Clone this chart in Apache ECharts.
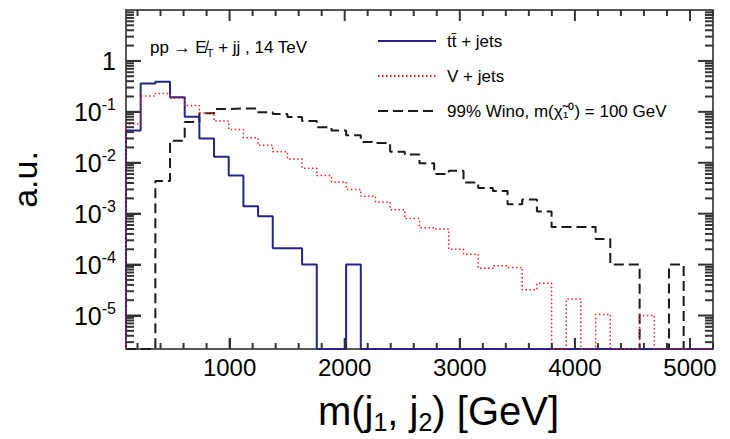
<!DOCTYPE html>
<html><head><meta charset="utf-8">
<script src="https://cdn.jsdelivr.net/npm/echarts@6/dist/echarts.min.js"></script>
<style>html,body{margin:0;padding:0;background:#fff}#c{width:730px;height:439px}</style>
</head><body><div id="c"></div>
<script>
// ---- data (histogram bin edges in GeV, 40 bins) ----
const binEdges = [100, 227.5, 355, 482.5, 610, 737.5, 865, 992.5, 1120, 1247.5,
  1375, 1502.5, 1630, 1757.5, 1885, 2012.5, 2140, 2267.5, 2395, 2522.5,
  2650, 2777.5, 2905, 3032.5, 3160, 3287.5, 3415, 3542.5, 3670, 3797.5,
  3925, 4052.5, 4180, 4307.5, 4435, 4562.5, 4690, 4817.5, 4945, 5072.5, 5200];
const ttbarJets = [0.043, 0.36, 0.39, 0.194, 0.080, 0.030, 0.0131, 0.0056, 0.0014, 0.00089,
  0.00021, 0.00021, 0.0001, 0, 0, 0.0001, 0, 0, 0, 0,
  0, 0, 0, 0, 0, 0, 0, 0, 0, 0,
  0, 0, 0, 0, 0, 0, 0, 0, 0, 0];
const vJets = [0.058, 0.205, 0.228, 0.185, 0.133, 0.095, 0.066, 0.045, 0.031, 0.022,
  0.0165, 0.0118, 0.0078, 0.0056, 0.0042, 0.0030, 0.0022, 0.0017, 0.0012, 0.0008,
  0.00053, 0.0005, 0.0002, 0.00016, 0.000085, 0.000095, 0.000088, 0.000032, 0.000043, 0,
  0.000021, 0, 0.0000105, 0, 0, 0.00001, 0, 0, 0, 0];
const wino = [0, 0, 0.0044, 0.027, 0.063, 0.094, 0.114, 0.116, 0.116, 0.098,
  0.091, 0.079, 0.066, 0.050, 0.043, 0.0345, 0.0257, 0.0245, 0.0164, 0.0145,
  0.0098, 0.0060, 0.0070, 0.0041, 0.0032, 0.0028, 0.00154, 0.0019, 0.0011, 0.00055,
  0.00055, 0.00055, 0.00032, 0.0001, 0.0001, 0, 0, 0.0001, 0, 0];
const xLabelValues = [1000, 2000, 3000, 4000, 5000];
const xMinorTickValues = [200, 400, 600, 800, 1200, 1400, 1600, 1800, 2200, 2400, 2600,
  2800, 3200, 3400, 3600, 3800, 4200, 4400, 4600, 4800, 5200];
const yLabelValues = [1e-5, 1e-4, 1e-3, 1e-2, 1e-1, 1];
const seriesNames = ['tt\u0304 + jets', 'V + jets', '99% Wino, m(\u03c7\u0303\u2081\u2070) = 100 GeV'];

// ---- layout / style ----
const X_MIN = 100, X_MAX = 5200, Y_MIN = 2.2e-6, Y_MAX = 10;
const FONT = '"Liberation Sans", Arial, Helvetica, sans-serif';
const yMinorTickValues = [];
for (let d = -6; d <= 0; d++) for (let k = 2; k <= 9; k++) {
  const v = k * Math.pow(10, d);
  if (v >= Y_MIN && v <= Y_MAX) yMinorTickValues.push(+v.toPrecision(3));
}
const TICKC = '#333';
const Y_MAJ = 15, Y_MIN_LEN = 8, X_MAJ = 11, X_MIN_LEN = 6;

// tick marks (ROOT style: inside, on all four sides) -> [x, y, length, side]
const tickData = [];
yLabelValues.forEach(v => { tickData.push([X_MIN, v, Y_MAJ, 0]); tickData.push([X_MAX, v, Y_MAJ, 1]); });
yMinorTickValues.forEach(v => { tickData.push([X_MIN, v, Y_MIN_LEN, 0]); tickData.push([X_MAX, v, Y_MIN_LEN, 1]); });
xLabelValues.forEach(v => { tickData.push([v, Y_MIN, X_MAJ, 2]); tickData.push([v, Y_MAX, X_MAJ, 3]); });
xMinorTickValues.forEach(v => { tickData.push([v, Y_MIN, X_MIN_LEN, 2]); tickData.push([v, Y_MAX, X_MIN_LEN, 3]); });

function histData(vals) {
  const f = v => (v > 0 ? v : Y_MIN);
  const pts = [[binEdges[0], Y_MIN]];
  vals.forEach((v, i) => pts.push([binEdges[i], f(v)]));
  pts.push([binEdges[vals.length], f(vals[vals.length - 1])]);
  pts.push([binEdges[vals.length], Y_MIN]);
  return pts;
}

const chart = echarts.init(document.getElementById('c'), null, {renderer: 'svg'});
chart.setOption({
  animation: false,
  backgroundColor: '#fff',
  textStyle: {fontFamily: FONT},
  title: {
    text: 'pp \u2192 E\u0338{sub|T} + jj , 14 TeV',
    left: 145, top: 31,
    textStyle: {fontSize: 17, fontWeight: 'normal', color: '#000', fontFamily: FONT,
      rich: {sub: {fontSize: 11, verticalAlign: 'bottom', lineHeight: 22, fontFamily: FONT, color: '#000'}}}
  },
  grid: {left: 121, right: 17, top: 10, bottom: 87, show: true, borderColor: '#222', borderWidth: 1.5,
    backgroundColor: 'transparent'},
  legend: {
    orient: 'vertical', left: 377, top: 31, padding: 0, itemWidth: 58, itemHeight: 14, itemGap: 15,
    data: seriesNames,
    itemStyle: {opacity: 0},
    textStyle: {fontSize: 17, color: '#000', fontFamily: FONT, lineHeight: 20, padding: [0, 0, 0, 6]},
  },
  xAxis: {
    type: 'value', min: X_MIN, max: X_MAX,
    axisLine: {show: false, onZero: false}, splitLine: {show: false},
    axisTick: {show: true, inside: true, length: X_MAJ, customValues: xLabelValues, lineStyle: {color: TICKC, width: 2}},
    axisLabel: {show: true, customValues: xLabelValues, margin: 6, color: '#000',
      fontFamily: FONT, fontSize: 24, formatter: v => String(v)},
    name: '{t|m(j}{d|1}{t|, j}{d|2}{t|) [GeV]}',
    nameLocation: 'middle', nameGap: 39,
    nameTextStyle: {padding: [0, 0, 0, 38], rich: {
      t: {fontSize: 40, fontFamily: FONT, color: '#000', lineHeight: 46},
      d: {fontSize: 25, fontFamily: FONT, color: '#000', verticalAlign: 'bottom', lineHeight: 46}
    }}
  },
  yAxis: {
    type: 'log', min: Y_MIN, max: Y_MAX,
    axisLine: {show: false, onZero: false}, splitLine: {show: false},
    axisTick: {show: true, inside: true, length: Y_MAJ, customValues: yLabelValues, lineStyle: {color: TICKC, width: 2}},
    axisLabel: {
      show: true, customValues: yLabelValues, margin: 10, color: '#000', fontFamily: FONT,
      formatter: function (v) {
        const e = Math.round(Math.log10(v));
        return e === 0 ? '{b|1}' : '{b|10}{s|' + e + '}';
      },
      rich: {
        b: {fontSize: 25, fontFamily: FONT, color: '#000', lineHeight: 30},
        s: {fontSize: 16, fontFamily: FONT, color: '#000', verticalAlign: 'top', lineHeight: 18}
      }
    },
    name: 'a.u.', nameLocation: 'middle', nameRotate: 90, nameGap: 84,
    nameTextStyle: {fontSize: 34, fontFamily: FONT, color: '#000'}
  },
  series: [
    {name: seriesNames[2], type: 'line', step: 'end', data: histData(wino), symbol: 'none',
      lineStyle: {color: '#1a1a1a', width: 2, type: [10, 5]}, itemStyle: {color: '#1a1a1a'}, z: 2},
    {name: seriesNames[0], type: 'line', step: 'end', data: histData(ttbarJets), symbol: 'none',
      lineStyle: {color: '#24248c', width: 2, type: 'solid'}, itemStyle: {color: '#24248c'}, z: 3},
    {name: seriesNames[1], type: 'line', step: 'end', data: histData(vJets), symbol: 'none',
      lineStyle: {color: '#ff1a1a', width: 1.5, type: [1.5, 2.5]}, itemStyle: {color: '#ff1a1a'}, z: 4},
    {name: 'axis ticks', type: 'custom', data: tickData, silent: true, z: 10, clip: false, animation: false,
      encode: {x: 0, y: 1},
      renderItem: function (params, api) {
        const side = api.value(3), len = api.value(2);
        const p = api.coord([api.value(0), api.value(1)]);
        let x2 = p[0], y2 = p[1];
        if (side === 0) x2 += len; else if (side === 1) x2 -= len;
        else if (side === 2) y2 -= len; else y2 += len;
        return {type: 'line', shape: {x1: p[0], y1: p[1], x2: x2, y2: y2},
          style: {stroke: TICKC, lineWidth: 2}};
      }}
  ]
});
</script></body></html>
